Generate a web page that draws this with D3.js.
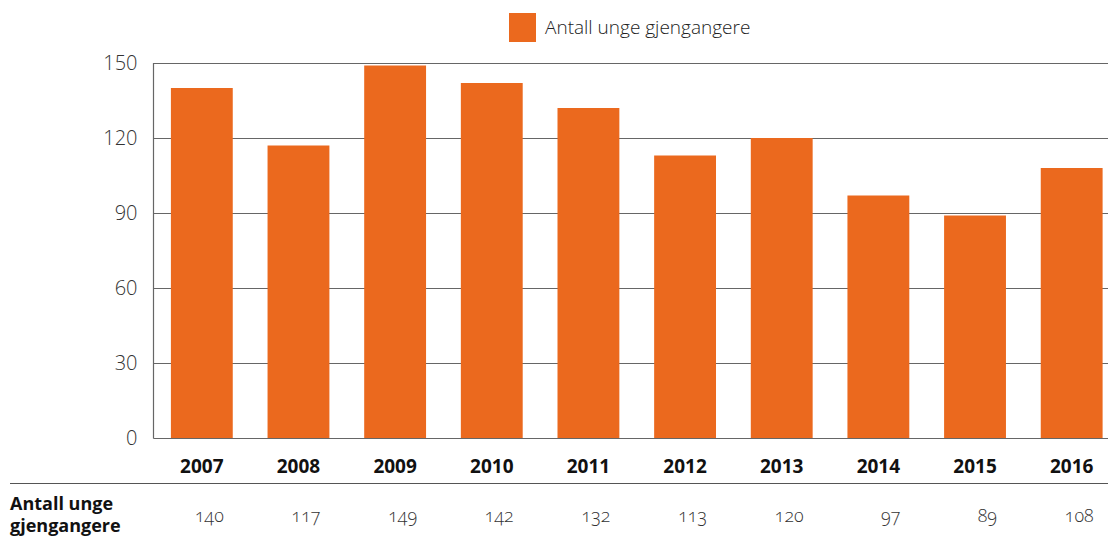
<!DOCTYPE html>
<html>
<head>
<meta charset="utf-8">
<script src="https://cdn.jsdelivr.net/npm/d3@7"></script>
<style>
  body { margin: 0; background: #fff; }
  svg { display: block; font-family: "Open Sans", sans-serif; }
</style>
</head>
<body>
<div id="vis-container"></div>
<script>
// Data
var years = ['2007','2008','2009','2010','2011','2012','2013','2014','2015','2016']
var values = [140, 117, 149, 142, 132, 113, 120, 97, 89, 108]
var yTicks = [0, 30, 60, 90, 120, 150]
var seriesName = 'Antall unge gjengangere'
var rowLabel = ['Antall unge', 'gjengangere']

var data = years.map(function (y, i) { return { year: y, value: values[i] } })

var W = 1108, H = 539
var orange = '#eb691e'

var svg = d3.select('#vis-container').append('svg')
    .attr('width', W)
    .attr('height', H)

// Scales
var xScale = d3.scaleBand()
  .domain(years)
  .range([153.5, 1120])
  .paddingInner(0.36)
  .paddingOuter(0.18)
var yScale = d3.scaleLinear()
  .domain([0, 150])
  .range([438, 63])

// Gridlines
svg.append('g')
  .selectAll('line')
  .data(yTicks.filter(function (d) { return d > 0 }))
  .enter()
  .append('line')
    .attr('x1', 153.5)
    .attr('x2', W)
    .attr('y1', function (d) { return Math.round(yScale(d)) + 0.5 })
    .attr('y2', function (d) { return Math.round(yScale(d)) + 0.5 })
    .attr('stroke', '#666')
    .attr('stroke-width', 1.2)

// Bars
svg.append('g')
  .selectAll('rect')
  .data(data)
  .enter()
  .append('rect')
    .attr('x', function (d) { return xScale(d.year) })
    .attr('width', xScale.bandwidth())
    .attr('y', function (d) { return yScale(d.value) })
    .attr('height', function (d) { return yScale(0) - yScale(d.value) })
    .attr('fill', orange)

// Axis lines
svg.append('line')
  .attr('x1', 153.5).attr('x2', 153.5)
  .attr('y1', 63).attr('y2', 438.5)
  .attr('stroke', '#666').attr('stroke-width', 1.2)
svg.append('line')
  .attr('x1', 153.5).attr('x2', W)
  .attr('y1', 438.5).attr('y2', 438.5)
  .attr('stroke', '#666').attr('stroke-width', 1.2)

// Y tick labels
var yAxis = d3.axisLeft(yScale).tickValues(yTicks).tickSize(0).tickPadding(16)
var yg = svg.append('g')
  .attr('transform', 'translate(153.5,0)')
  .call(yAxis)
  .attr('font-family', null)
  .attr('font-size', null)
yg.select('.domain').remove()
yg.selectAll('text')
  .attr('fill', '#333')
  .style('font-size', '20px')
  .style('font-weight', 300)

// Year labels
var xAxis = d3.axisBottom(xScale).tickSize(0).tickPadding(22)
var xg = svg.append('g')
  .attr('transform', 'translate(0,438)')
  .call(xAxis)
  .attr('font-family', null)
  .attr('font-size', null)
xg.select('.domain').remove()
xg.selectAll('text')
  .attr('fill', '#111')
  .style('font-size', '19px')
  .style('font-weight', 700)

// Table separator
svg.append('line')
  .attr('x1', 10).attr('x2', W)
  .attr('y1', 483.5).attr('y2', 483.5)
  .attr('stroke', '#555').attr('stroke-width', 1.2)

// Row label
svg.append('text')
  .selectAll('tspan')
  .data(rowLabel)
  .enter()
  .append('tspan')
    .attr('x', 10)
    .attr('y', function (d, i) { return 510 + i * 22 })
    .text(function (d) { return d })
    .attr('fill', '#111')
    .style('font-size', '18px')
    .style('font-weight', 700)

// Row values
svg.append('g')
  .selectAll('text')
  .data(data)
  .enter()
  .append('text')
    .attr('x', function (d) { return xScale(d.year) + xScale.bandwidth() / 2 + 22 })
    .attr('y', 522)
    .attr('text-anchor', 'end')
    .text(function (d) { return d.value })
    .attr('fill', '#333')
    .style('font-size', '18px')
    .style('font-weight', 300)
    .style('font-variant-numeric', 'oldstyle-nums')

// Legend
svg.append('rect')
  .attr('x', 509).attr('y', 13)
  .attr('width', 27).attr('height', 29)
  .attr('fill', orange)
svg.append('text')
  .attr('x', 545).attr('y', 34)
  .text(seriesName)
  .attr('fill', '#222')
  .style('font-size', '19px')
  .style('font-weight', 300)
</script>
</body>
</html>
